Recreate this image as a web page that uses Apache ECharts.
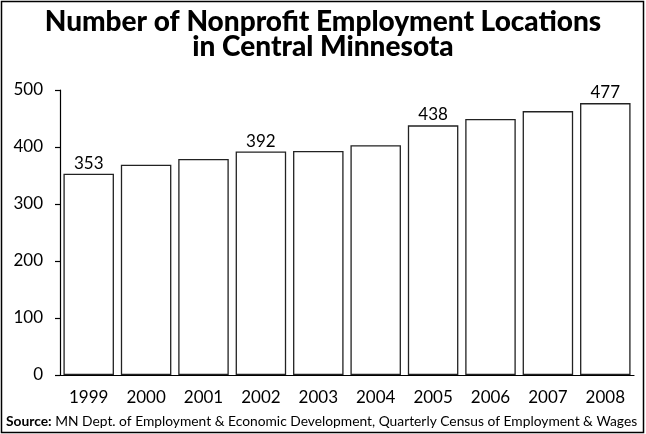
<!DOCTYPE html>
<html>
<head>
<meta charset="utf-8">
<script src="https://cdn.jsdelivr.net/npm/echarts@6/dist/echarts.min.js"></script>
<style>html,body{margin:0;padding:0;background:#fff}#c{width:646px;height:434px}</style>
</head>
<body>
<div id="c"></div>
<script>
var years = ['1999','2000','2001','2002','2003','2004','2005','2006','2007','2008'];
var locations = [353, 369, 379, 392, 393, 403, 438, 449, 463, 477];
var labeledYears = ['1999','2002','2005','2008'];
var yTicks = [0, 100, 200, 300, 400, 500];

var chart = echarts.init(document.getElementById('c'), null, {renderer: 'canvas'});
var FONT = 'Lato, "DejaVu Sans", sans-serif';
chart.setOption({
  animation: false,
  backgroundColor: '#fff',
  title: {
    text: 'Number of Nonprofit Employment Locations\nin Central Minnesota',
    left: 'center', top: 4,
    textStyle: {fontFamily: FONT, fontWeight: 900, fontSize: 28, lineHeight: 25, color: '#000'}
  },
  grid: {left: 60, right: 12, top: 90, bottom: 59},
  xAxis: {
    type: 'category', data: years,
    axisLine: {lineStyle: {color: '#000', width: 1.2}},
    axisTick: {show: false},
    axisLabel: {fontFamily: FONT, fontSize: 17, color: '#000', margin: 14}
  },
  yAxis: {
    type: 'value', min: yTicks[0], max: yTicks[yTicks.length-1], interval: 100,
    axisLine: {show: true, lineStyle: {color: '#000', width: 1.2}},
    axisTick: {show: true, length: 5, lineStyle: {color: '#000', width: 1.2}},
    splitLine: {show: false},
    axisLabel: {fontFamily: FONT, fontSize: 17, color: '#000', margin: 17}
  },
  series: [{
    type: 'bar',
    barCategoryGap: '12%',
    data: locations.map(function(v, i){
      return {value: v, label: {show: labeledYears.indexOf(years[i]) >= 0}};
    }),
    itemStyle: {color: '#fff', borderColor: '#222', borderWidth: 1.3},
    label: {position: 'top', distance: 2, fontFamily: FONT, fontSize: 17, color: '#000'}
  }],
  graphic: [
    {type: 'rect', shape: {x: 1.5, y: 1.5, width: 642, height: 431},
     style: {fill: 'none', stroke: '#000', lineWidth: 1.5}, silent: true},
    {type: 'text', left: 6, top: 415,
     style: {text: '{b|Source:} MN Dept. of Employment & Economic Development, Quarterly Census of Employment & Wages',
       rich: {b: {fontFamily: FONT, fontWeight: 'bold', fontSize: 13.8, fill: '#000'}},
       fontFamily: FONT, fontSize: 13.8, fill: '#000'}}
  ]
});
</script>
</body>
</html>
